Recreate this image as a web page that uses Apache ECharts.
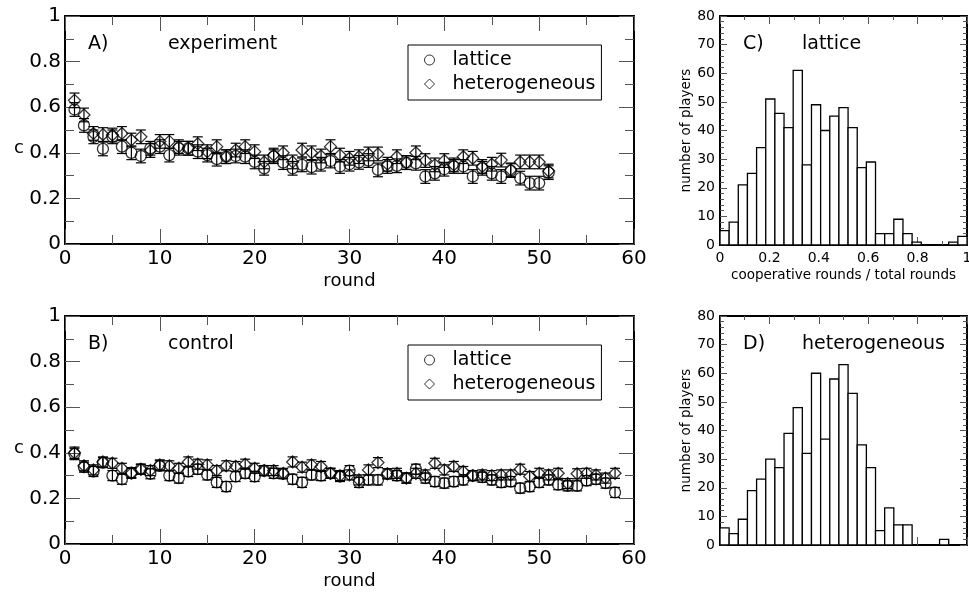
<!DOCTYPE html>
<html>
<head>
<meta charset="utf-8">
<script src="https://cdn.jsdelivr.net/npm/echarts@6/dist/echarts.min.js"></script>
<style>
  html, body { margin: 0; padding: 0; background: #fff; }
  #chart { width: 969px; height: 595px; }
</style>
</head>
<body>
<div id="chart"></div>
<script>
// ---- Cooperation level per round (panels A and B) ----
const roundsA = [1,2,3,4,5,6,7,8,9,10,11,12,13,14,15,16,17,18,19,20,21,22,23,24,25,26,27,28,29,30,31,32,33,34,35,36,37,38,39,40,41,42,43,44,45,46,47,48,49,50,51];
const roundsB = [1,2,3,4,5,6,7,8,9,10,11,12,13,14,15,16,17,18,19,20,21,22,23,24,25,26,27,28,29,30,31,32,33,34,35,36,37,38,39,40,41,42,43,44,45,46,47,48,49,50,51,52,53,54,55,56,57,58];

// experiment
const latticeA = [0.59,0.52,0.47,0.417,0.47,0.427,0.40,0.386,0.42,0.427,0.39,0.42,0.42,0.405,0.39,0.372,0.383,0.386,0.383,0.36,0.332,0.383,0.357,0.332,0.347,0.337,0.35,0.364,0.34,0.35,0.358,0.366,0.325,0.34,0.343,0.357,0.354,0.296,0.31,0.328,0.34,0.34,0.296,0.332,0.31,0.296,0.322,0.289,0.267,0.267,0.313];
const latticeAErr = [0.03,0.03,0.03,0.03,0.03,0.03,0.03,0.03,0.03,0.03,0.03,0.03,0.03,0.03,0.03,0.03,0.03,0.03,0.03,0.03,0.03,0.03,0.03,0.03,0.03,0.03,0.03,0.03,0.03,0.03,0.03,0.03,0.03,0.03,0.03,0.03,0.03,0.03,0.03,0.03,0.03,0.03,0.03,0.03,0.03,0.03,0.03,0.03,0.03,0.03,0.03];
const heteroA = [0.63,0.566,0.485,0.48,0.478,0.485,0.456,0.47,0.41,0.45,0.45,0.427,0.42,0.44,0.405,0.427,0.383,0.412,0.427,0.405,0.36,0.39,0.40,0.36,0.412,0.40,0.386,0.427,0.39,0.376,0.383,0.395,0.395,0.35,0.383,0.357,0.40,0.366,0.347,0.366,0.347,0.383,0.376,0.34,0.35,0.368,0.325,0.36,0.36,0.36,0.32];
const heteroAErr = [0.032,0.03,0.03,0.03,0.03,0.03,0.03,0.03,0.03,0.03,0.03,0.03,0.03,0.03,0.03,0.03,0.03,0.03,0.03,0.03,0.03,0.03,0.03,0.03,0.03,0.03,0.03,0.03,0.03,0.03,0.03,0.03,0.03,0.03,0.03,0.03,0.03,0.03,0.03,0.03,0.03,0.03,0.03,0.03,0.03,0.03,0.03,0.03,0.03,0.03,0.03];

// control
const latticeB = [0.395,0.337,0.318,0.357,0.30,0.284,0.313,0.328,0.308,0.343,0.30,0.289,0.318,0.328,0.303,0.27,0.252,0.296,0.31,0.296,0.322,0.31,0.308,0.284,0.27,0.303,0.30,0.31,0.296,0.322,0.27,0.281,0.281,0.308,0.30,0.289,0.328,0.289,0.274,0.267,0.274,0.281,0.30,0.293,0.281,0.27,0.274,0.245,0.252,0.27,0.281,0.26,0.255,0.255,0.278,0.284,0.267,0.226];
const latticeBErr = [0.025,0.022,0.022,0.022,0.022,0.022,0.022,0.022,0.022,0.022,0.022,0.022,0.022,0.022,0.022,0.022,0.022,0.022,0.022,0.022,0.022,0.022,0.022,0.022,0.022,0.022,0.022,0.022,0.022,0.022,0.022,0.022,0.022,0.022,0.022,0.022,0.022,0.022,0.022,0.022,0.022,0.022,0.022,0.022,0.022,0.022,0.022,0.022,0.022,0.022,0.022,0.022,0.022,0.022,0.022,0.022,0.022,0.022];
const heteroB = [0.40,0.343,0.325,0.36,0.354,0.332,0.31,0.328,0.322,0.347,0.343,0.332,0.36,0.35,0.347,0.322,0.343,0.34,0.35,0.332,0.322,0.322,0.31,0.36,0.337,0.347,0.34,0.31,0.30,0.303,0.281,0.325,0.357,0.308,0.31,0.289,0.31,0.303,0.354,0.325,0.34,0.318,0.30,0.303,0.30,0.303,0.303,0.328,0.296,0.31,0.303,0.31,0.265,0.308,0.31,0.303,0.289,0.31];
const heteroBErr = [0.025,0.022,0.022,0.022,0.022,0.022,0.022,0.022,0.022,0.022,0.022,0.022,0.022,0.022,0.022,0.022,0.022,0.022,0.022,0.022,0.022,0.022,0.022,0.022,0.022,0.022,0.022,0.022,0.022,0.022,0.022,0.022,0.022,0.022,0.022,0.022,0.022,0.022,0.022,0.022,0.022,0.022,0.022,0.022,0.022,0.022,0.022,0.022,0.022,0.022,0.022,0.022,0.022,0.022,0.022,0.022,0.022,0.022];

// ---- Histograms of cooperative fraction (panels C and D), 27 equal bins on [0, 1] ----
const binCount = 27;
const histLattice = [5,8,21,25,34,51,46,41,61,28,49,40,45,48,41,27,29,4,4,9,4,1,0,0,0,1,3];
const histHetero  = [6,4,9,19,23,30,27,39,48,32,60,37,58,63,53,35,27,5,13,7,7,0,0,0,2,0,0];

const FONT = 'DejaVu Sans';
const INK = '#000';
const TICK = '#555';

const chart = echarts.init(document.getElementById('chart'), null, { renderer: 'canvas' });

function axis(opts) {
  const showLabel = opts.label !== false;
  return {
    type: 'value',
    gridIndex: opts.grid,
    position: opts.position,
    min: opts.min, max: opts.max, interval: opts.interval,
    name: opts.name || '',
    nameLocation: 'middle',
    nameGap: opts.nameGap || 0,
    nameRotate: opts.nameRotate,
    nameTextStyle: { fontFamily: FONT, fontSize: opts.nameSize || 18, color: INK },
    axisLine: { show: true, onZero: false, lineStyle: { color: INK, width: 2 } },
    axisTick: { show: true, inside: true, length: opts.tickLen, lineStyle: { color: TICK, width: 1 } },
    minorTick: { show: true, splitNumber: opts.minor, length: opts.minorLen, lineStyle: { color: TICK, width: 1 } },
    splitLine: { show: false },
    minorSplitLine: { show: false },
    axisLabel: {
      show: showLabel,
      fontFamily: FONT, fontSize: opts.labelSize, color: INK, margin: opts.labelMargin,
      showMinLabel: true, showMaxLabel: true
    }
  };
}

function errorBars(xs, ys, errs, xi, yi) {
  return {
    type: 'custom', xAxisIndex: xi, yAxisIndex: yi, silent: true, z: 1,
    data: xs.map((x, i) => [x, ys[i] - errs[i], ys[i] + errs[i]]),
    encode: { x: 0, y: [1, 2] },
    renderItem(params, api) {
      const lo = api.coord([api.value(0), api.value(1)]);
      const hi = api.coord([api.value(0), api.value(2)]);
      const hw = 5;
      const st = { stroke: INK, lineWidth: 1.2 };
      return {
        type: 'group',
        children: [
          { type: 'line', shape: { x1: lo[0], y1: lo[1], x2: hi[0], y2: hi[1] }, style: st },
          { type: 'line', shape: { x1: lo[0] - hw, y1: lo[1], x2: lo[0] + hw, y2: lo[1] }, style: st },
          { type: 'line', shape: { x1: hi[0] - hw, y1: hi[1], x2: hi[0] + hw, y2: hi[1] }, style: st }
        ]
      };
    }
  };
}

function points(name, symbol, xs, ys, xi, yi) {
  return {
    name, type: 'scatter', symbol, symbolSize: symbol === 'diamond' ? 12 : 11,
    xAxisIndex: xi, yAxisIndex: yi, z: 2,
    itemStyle: { color: 'rgba(0,0,0,0)', borderColor: INK, borderWidth: 1.3 },
    emphasis: { disabled: true },
    data: xs.map((x, i) => [x, ys[i]])
  };
}

function histogram(counts, xi, yi) {
  const data = [];
  counts.forEach((c, k) => {
    if (c > 0) data.push([k / binCount, (k + 1) / binCount, c]);
  });
  return {
    type: 'custom', xAxisIndex: xi, yAxisIndex: yi, silent: true,
    data,
    encode: { x: [0, 1], y: 2 },
    renderItem(params, api) {
      const p0 = api.coord([api.value(0), 0]);
      const p1 = api.coord([api.value(1), api.value(2)]);
      return {
        type: 'rect',
        shape: { x: p0[0], y: p1[1], width: p1[0] - p0[0], height: p0[1] - p1[1] },
        style: { fill: '#fff', stroke: INK, lineWidth: 1.3 }
      };
    }
  };
}

// shared axis settings
const roundAxis = { min: 0, max: 60, interval: 10, minor: 2, tickLen: 15, minorLen: 9, labelSize: 20, labelMargin: 5 };
const cAxis = { min: 0, max: 1, interval: 0.2, minor: 2, tickLen: 15, minorLen: 9, labelSize: 20, labelMargin: 4 };
const fracAxis = { min: 0, max: 1, interval: 0.2, minor: 2, tickLen: 8, minorLen: 4, labelSize: 14, labelMargin: 6 };
const countAxis = { min: 0, max: 80, interval: 10, minor: 5, tickLen: 7, minorLen: 4, labelSize: 14, labelMargin: 5 };

const xAxes = [
  axis(Object.assign({}, roundAxis, { grid: 0, position: 'bottom', name: 'round', nameGap: 28, nameSize: 18 })),
  axis(Object.assign({}, roundAxis, { grid: 0, position: 'top', label: false })),
  axis(Object.assign({}, roundAxis, { grid: 1, position: 'bottom', name: 'round', nameGap: 28, nameSize: 18 })),
  axis(Object.assign({}, roundAxis, { grid: 1, position: 'top', label: false })),
  axis(Object.assign({}, fracAxis, { grid: 2, position: 'bottom', name: 'cooperative rounds / total rounds', nameGap: 23, nameSize: 13.5 })),
  axis(Object.assign({}, fracAxis, { grid: 2, position: 'top', label: false })),
  axis(Object.assign({}, fracAxis, { grid: 3, position: 'bottom', label: false })),
  axis(Object.assign({}, fracAxis, { grid: 3, position: 'top', label: false }))
];

const yAxes = [
  axis(Object.assign({}, cAxis, { grid: 0, position: 'left' })),
  axis(Object.assign({}, cAxis, { grid: 0, position: 'right', label: false })),
  axis(Object.assign({}, cAxis, { grid: 1, position: 'left' })),
  axis(Object.assign({}, cAxis, { grid: 1, position: 'right', label: false })),
  axis(Object.assign({}, countAxis, { grid: 2, position: 'left', name: 'number of players', nameGap: 26, nameRotate: 90, nameSize: 13.5 })),
  axis(Object.assign({}, countAxis, { grid: 2, position: 'right', label: false })),
  axis(Object.assign({}, countAxis, { grid: 3, position: 'left', name: 'number of players', nameGap: 26, nameRotate: 90, nameSize: 13.5 })),
  axis(Object.assign({}, countAxis, { grid: 3, position: 'right', label: false }))
];

function legendAt(top) {
  return {
    data: ['lattice', 'heterogeneous'],
    orient: 'vertical', left: 408, top,
    width: 195,
    borderColor: INK, borderWidth: 1, borderRadius: 0,
    padding: [5, 6, 6, 16],
    itemGap: 4, itemWidth: 10, itemHeight: 10,
    selectedMode: false,
    itemStyle: { color: 'rgba(0,0,0,0)', borderColor: INK, borderWidth: 1 },
    textStyle: { fontFamily: FONT, fontSize: 19, color: INK, lineHeight: 20, padding: [0, 0, 0, 13] }
  };
}

function label(text, left, top, size) {
  return {
    type: 'text', left, top,
    style: { text, fontFamily: FONT, fontSize: size, fill: INK }
  };
}

chart.setOption({
  animation: false,
  backgroundColor: '#fff',
  grid: [
    { left: 65, top: 16, width: 569, height: 228, outerBoundsMode: 'none', containLabel: false },
    { left: 65, top: 316, width: 569, height: 228, outerBoundsMode: 'none', containLabel: false },
    { left: 720, top: 16, width: 247, height: 229, outerBoundsMode: 'none', containLabel: false },
    { left: 720, top: 316, width: 247, height: 229, outerBoundsMode: 'none', containLabel: false }
  ],
  xAxis: xAxes,
  yAxis: yAxes,
  legend: [legendAt(45), legendAt(345)],
  graphic: [
    label('A)', 88, 35, 19),
    label('experiment', 168, 35, 19),
    label('B)', 88, 335, 19),
    label('control', 168, 335, 19),
    label('C)', 743, 35, 19),
    label('lattice', 802, 35, 19),
    label('D)', 743, 335, 19),
    label('heterogeneous', 802, 335, 19),
    // y-axis titles of the two time-series panels
    label('c', 14, 139, 18),
    label('c', 14, 439, 18)
  ],
  series: [
    errorBars(roundsA, latticeA, latticeAErr, 0, 0),
    errorBars(roundsA, heteroA, heteroAErr, 0, 0),
    points('lattice', 'circle', roundsA, latticeA, 0, 0),
    points('heterogeneous', 'diamond', roundsA, heteroA, 0, 0),
    errorBars(roundsB, latticeB, latticeBErr, 2, 2),
    errorBars(roundsB, heteroB, heteroBErr, 2, 2),
    points('lattice', 'circle', roundsB, latticeB, 2, 2),
    points('heterogeneous', 'diamond', roundsB, heteroB, 2, 2),
    histogram(histLattice, 4, 4),
    histogram(histHetero, 6, 6)
  ]
});
</script>
</body>
</html>
